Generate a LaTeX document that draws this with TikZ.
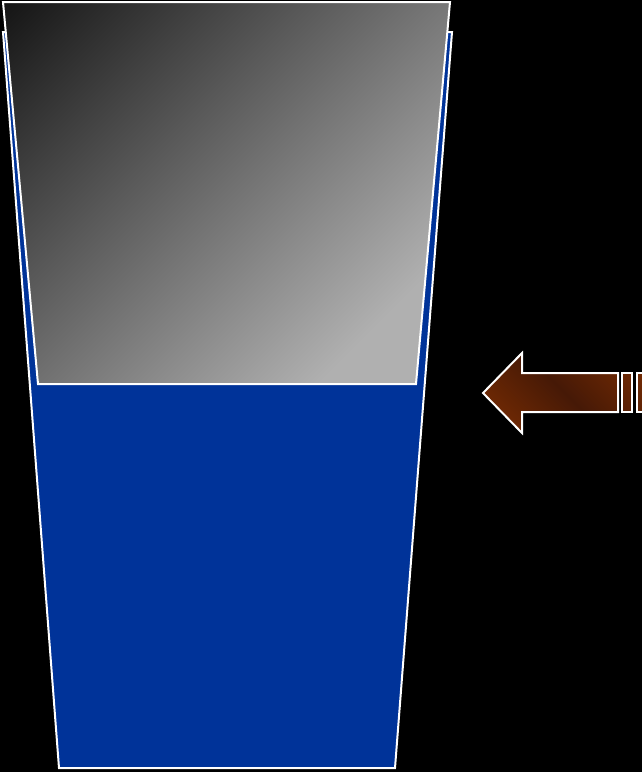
\documentclass[tikz,border=0pt]{standalone}
\definecolor{glassblue}{RGB}{0,51,153}
\definecolor{graydark}{RGB}{20,20,20}
\definecolor{graylight}{RGB}{176,176,176}
\definecolor{brownlight}{RGB}{135,50,2}
\definecolor{browndark}{RGB}{70,25,6}
\tikzset{
  outline/.style={draw=white, line width=2pt, line join=miter},
}
\begin{document}
\begin{tikzpicture}[x=1pt,y=-1pt]
\fill[black] (0,0) rectangle (642,772);
\useasboundingbox (0,0) rectangle (642,772);
% blue glass
\coordinate (b1) at (3,32);
\coordinate (b2) at (452,32);
\coordinate (b3) at (395,768);
\coordinate (b4) at (59,768);
\fill[glassblue] (b1) -- (b2) -- (b3) -- (b4) -- cycle;
\draw[outline] (b1) -- (b2) -- (b3) -- (b4) -- cycle;
% gray part
\coordinate (g1) at (3,2);
\coordinate (g2) at (450,2);
\coordinate (g3) at (416,384);
\coordinate (g4) at (38,384);
\begin{scope}
\clip (g1) -- (g2) -- (g3) -- (g4) -- cycle;
\fill[graylight] (g1) -- (g2) -- (g3) -- (g4) -- cycle;
\begin{scope}[transform canvas={rotate around={-45:(193,160)}}]
\shade[left color=graydark, right color=graylight]
  (-54,-290) rectangle (440,610);
\end{scope}
\end{scope}
\draw[outline] (g1) -- (g2) -- (g3) -- (g4) -- cycle;
% arrow
\coordinate (tip) at (483,393);
\coordinate (ht) at (522,353);
\coordinate (hb) at (522,433);
\coordinate (st) at (522,373);
\coordinate (sb) at (522,412);
\coordinate (et) at (618,373);
\coordinate (eb) at (618,412);
\begin{scope}
\clip (tip) -- (ht) -- (st) -- (et) -- (eb) -- (sb) -- (hb) -- cycle
  (622,373) rectangle (632,412)
  (637,373) rectangle (660,412);
\begin{scope}[transform canvas={rotate around={45:(565,393)}}]
\shade[left color=brownlight, right color=brownlight, middle color=browndark]
  (465,293) rectangle (665,493);
\end{scope}
\end{scope}
\draw[outline] (tip) -- (ht) -- (st) -- (et) -- (eb) -- (sb) -- (hb) -- cycle;
\draw[outline] (622,373) rectangle (632,412);
\draw[outline] (637,373) rectangle (660,412);
\end{tikzpicture}
\end{document}
